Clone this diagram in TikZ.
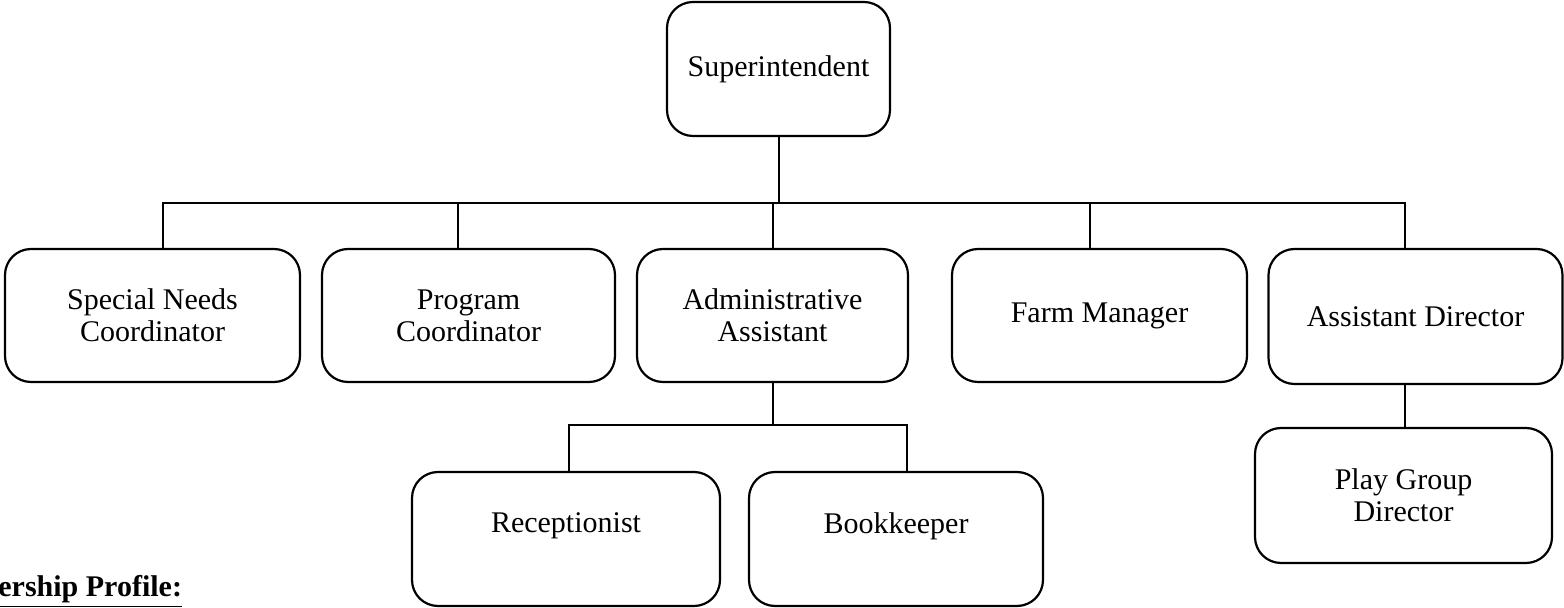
\documentclass[tikz,border=0pt]{standalone}
\usepackage{fontspec}
\setmainfont{Liberation Serif}

\begin{document}
\begin{tikzpicture}[x=0.5pt,y=-0.5pt]

      \useasboundingbox (0,0) rectangle (1564,608);

      \begin{scope}[every node/.style={draw, line width=1.1pt, rounded corners=13pt,
          align=center, font=\fontsize{15}{16}\selectfont, inner sep=0pt}]
        \node[minimum width=111.5pt, minimum height=67pt]   (sup) at (778.5,69)  {Superintendent};
        \node[minimum width=147.5pt, minimum height=66.5pt] (snc) at (152.5,315.5) {Special Needs\\Coordinator};
        \node[minimum width=146.5pt, minimum height=66.5pt] (pc)  at (468.5,315.5) {Program\\Coordinator};
        \node[minimum width=135.5pt, minimum height=66.5pt] (aa)  at (772.5,315.5) {Administrative\\Assistant};
        \node[minimum width=147.5pt, minimum height=66.5pt] (fm)  at (1099.5,315.5) {Farm Manager};
        \node[minimum width=147pt,   minimum height=67.5pt] (ad)  at (1415.5,316.5) {Assistant Director};
        \node[minimum width=154pt,   minimum height=67pt]   (rec) at (566,539)  {Receptionist\\~};
        \node[minimum width=147pt,   minimum height=67pt]   (bk)  at (896,539)  {Bookkeeper\\~};
        \node[minimum width=148.5pt, minimum height=67.5pt] (pgd) at (1403.5,495.5) {Play Group\\Director};
      \end{scope}

      \node[anchor=base west, inner sep=0pt, font=\fontsize{15}{16}\selectfont\bfseries]
        (prof) at (-2,597) {\underline{ership Profile:}};

      \coordinate (bus)  at (778.5,203);
      \coordinate (abus) at (772.5,425);

      \begin{scope}[line width=1pt]
        \draw (sup.south) -- (bus);
        \draw ([xshift=5.25pt]snc.north) |- (bus);
        \draw ([xshift=-5.25pt]pc.north) |- (bus);
        \draw ([xshift=0.25pt]aa.north) |- (bus);
        \draw ([xshift=-4.75pt]fm.north) |- (bus);
        \draw ([xshift=-5.25pt]ad.north) |- (bus);

        \draw (aa.south) -- (abus);
        \draw ([xshift=1.5pt]rec.north) |- (abus);
        \draw ([xshift=5.5pt]bk.north) |- (abus);

        \draw ([xshift=-5.25pt]ad.south) -- ([xshift=-5.25pt]ad.south |- pgd.north);
      \end{scope}

    \end{tikzpicture}
\end{document}
